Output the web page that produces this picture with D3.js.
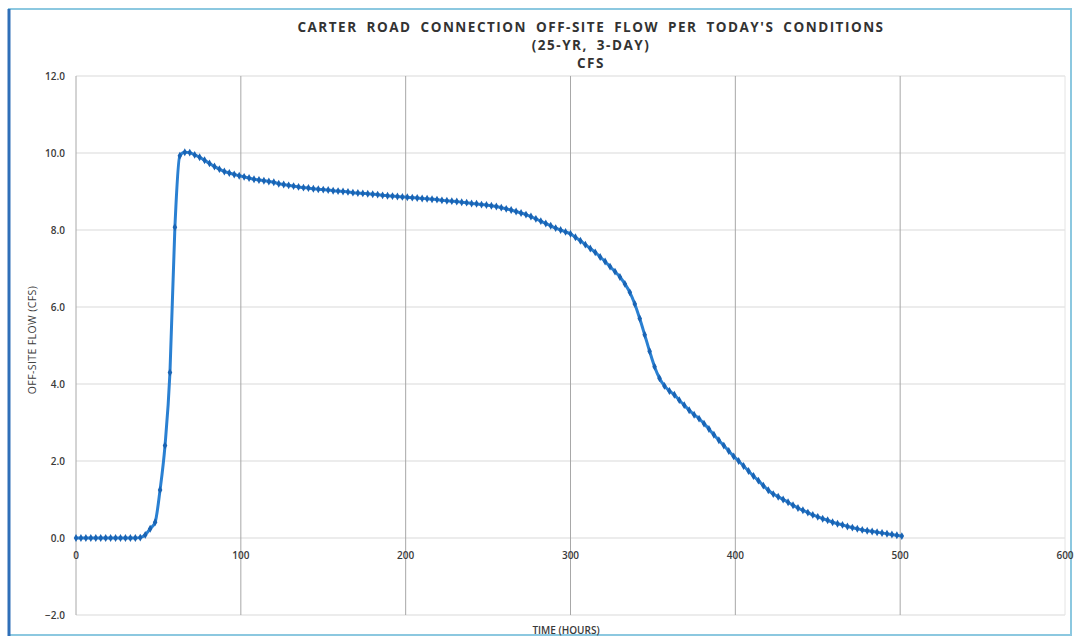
<!DOCTYPE html>
<html>
<head>
<meta charset="utf-8">
<script src="https://cdn.jsdelivr.net/npm/d3@7"></script>
<style>
	body { margin: 0; background: #fff; }
	svg { display: block; }
</style>
</head>
<body>
<div id="chart"></div>
<script>
// DATA
const titleLines = ["CARTER ROAD CONNECTION OFF-SITE FLOW PER TODAY'S CONDITIONS", "(25-YR, 3-DAY)", "CFS"];
const xTicks = [0, 100, 200, 300, 400, 500, 600];
const yTicks = [-2, 0, 2, 4, 6, 8, 10, 12];
const timeStep = 3; // hours between readings
const flowValues = [
	0, 0, 0, 0, 0, 0, 0, 0, 0, 0, 0, 0, 0, 0.01, 0.08, 0.24, 0.41, 1.25, 2.4, 4.3,
	8.07, 9.93, 10.02, 10.01, 9.95, 9.89, 9.81, 9.73, 9.65, 9.58, 9.52, 9.48, 9.44, 9.41, 9.38, 9.35, 9.32, 9.3, 9.28, 9.26,
	9.24, 9.2, 9.18, 9.16, 9.14, 9.12, 9.1, 9.09, 9.07, 9.06, 9.05, 9.04, 9.02, 9.01, 9.0, 8.99, 8.97, 8.96, 8.95, 8.94,
	8.93, 8.92, 8.9, 8.89, 8.88, 8.87, 8.86, 8.85, 8.84, 8.83, 8.82, 8.81, 8.8, 8.79, 8.77, 8.76, 8.75, 8.74, 8.72, 8.71,
	8.69, 8.68, 8.66, 8.65, 8.63, 8.61, 8.58, 8.55, 8.52, 8.48, 8.44, 8.4, 8.35, 8.29, 8.23, 8.17, 8.11, 8.05, 8.0, 7.95,
	7.9, 7.81, 7.72, 7.62, 7.52, 7.42, 7.3, 7.18, 7.05, 6.92, 6.78, 6.6, 6.38, 6.08, 5.7, 5.28, 4.85, 4.45, 4.15, 3.95,
	3.82, 3.72, 3.58, 3.45, 3.32, 3.2, 3.1, 2.97, 2.83, 2.68, 2.54, 2.4, 2.26, 2.12, 2.0, 1.87, 1.74, 1.61, 1.49, 1.36,
	1.24, 1.14, 1.07, 1.0, 0.93, 0.85, 0.78, 0.72, 0.66, 0.6, 0.55, 0.5, 0.46, 0.41, 0.37, 0.34, 0.3, 0.27, 0.24, 0.21,
	0.19, 0.17, 0.15, 0.13, 0.11, 0.09, 0.07, 0.05
];

//DIMENSIONS
const width = 1074,
	height = 639,
	plotLeft = 76,
	plotRight = 1065,
	plotTop = 76,
	plotBottom = 615;

const svg = d3
	.select("#chart")
	.append("svg")
	.attr("width", width)
	.attr("height", height);

//FRAME
svg
	.append("rect")
	.attr("x", 9)
	.attr("y", 9)
	.attr("width", width - 12)
	.attr("height", height - 13)
	.attr("fill", "#fff")
	.attr("stroke", "#8cc8e0")
	.attr("stroke-width", 2);
svg
	.append("line")
	.attr("x1", 9)
	.attr("x2", 9)
	.attr("y1", 9)
	.attr("y2", height - 3)
	.attr("stroke", "#2f6fb8")
	.attr("stroke-width", 3);

//SCALES
const x = d3.scaleLinear().domain([0, 600]).range([plotLeft, plotRight]);
const y = d3.scaleLinear().domain([-2, 12]).range([plotBottom, plotTop]);

//GRID
svg
	.append("g")
	.selectAll("line")
	.data(yTicks)
	.enter()
	.append("line")
	.attr("x1", plotLeft)
	.attr("x2", plotRight)
	.attr("y1", d => y(d))
	.attr("y2", d => y(d))
	.attr("stroke", "#dadada")
	.attr("stroke-width", 1.2);

svg
	.append("g")
	.selectAll("line")
	.data(xTicks)
	.enter()
	.append("line")
	.attr("x1", d => x(d))
	.attr("x2", d => x(d))
	.attr("y1", plotTop)
	.attr("y2", plotBottom)
	.attr("stroke", d => (d === 600 ? "#e4e4e4" : "#a8a8a8"))
	.attr("stroke-width", 1);

//TICK LABELS
const labelFont = "'Open Sans', 'DejaVu Sans', sans-serif";
svg
	.append("g")
	.selectAll("text")
	.data(yTicks)
	.enter()
	.append("text")
	.attr("x", 65)
	.attr("y", d => y(d))
	.attr("dy", "0.35em")
	.attr("text-anchor", "end")
	.style("font-family", labelFont)
	.style("font-size", "10px")
	.style("font-weight", 600)
	.style("fill", "#3a3a3a")
	.text(d => d3.format(".1f")(d));

svg
	.append("g")
	.selectAll("text")
	.data(xTicks)
	.enter()
	.append("text")
	.attr("x", d => x(d))
	.attr("y", y(0) + 21)
	.attr("text-anchor", "middle")
	.style("font-family", labelFont)
	.style("font-size", "10px")
	.style("font-weight", 600)
	.style("fill", "#3a3a3a")
	.text(d => d);

//AXIS TITLES
svg
	.append("text")
	.attr("transform", "translate(36, 340) rotate(-90)")
	.attr("text-anchor", "middle")
	.style("font-family", labelFont)
	.style("font-size", "10.5px")
	.style("letter-spacing", "0.4px")
	.style("fill", "#3a3a3a")
	.text("OFF-SITE FLOW (CFS)");

svg
	.append("text")
	.attr("x", 566)
	.attr("y", 634)
	.attr("text-anchor", "middle")
	.style("font-family", labelFont)
	.style("font-size", "10px")
	.style("font-weight", 600)
	.style("fill", "#3a3a3a")
	.text("TIME (HOURS)");

//TITLE
svg
	.append("g")
	.selectAll("text")
	.data(titleLines)
	.enter()
	.append("text")
	.attr("x", 591)
	.attr("y", (d, i) => 32 + i * 18)
	.attr("text-anchor", "middle")
	.style("font-family", labelFont)
	.style("font-size", "13.5px")
	.style("font-weight", 700)
	.style("letter-spacing", "1.5px")
	.style("word-spacing", "4px")
	.style("fill", "#333")
	.text(d => d);

//SERIES
const points = flowValues.map((v, i) => ({ t: i * timeStep, v }));

const line = d3
	.line()
	.x(d => x(d.t))
	.y(d => y(d.v))
	.curve(d3.curveMonotoneX);

svg
	.append("path")
	.datum(points)
	.attr("d", line)
	.attr("fill", "none")
	.attr("stroke", "#2a80d2")
	.attr("stroke-width", 3);

svg
	.append("g")
	.selectAll("path")
	.data(points)
	.enter()
	.append("path")
	.attr("d", d3.symbol().type(d3.symbolDiamond).size(18))
	.attr("transform", d => `translate(${x(d.t)},${y(d.v)})`)
	.attr("fill", "#1a64b4");
</script>
</body>
</html>
